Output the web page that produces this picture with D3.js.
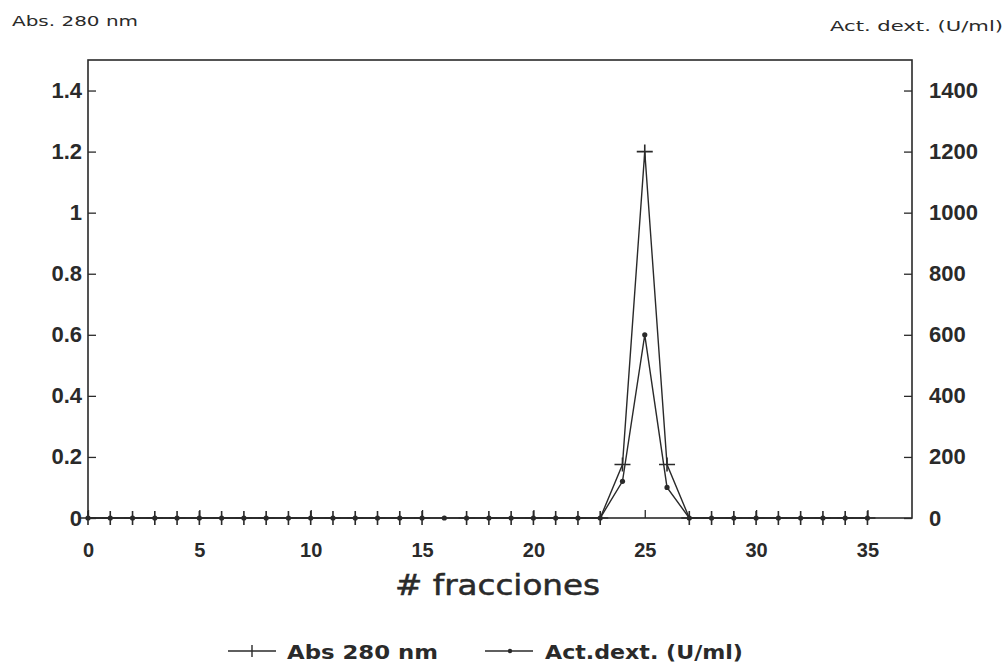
<!DOCTYPE html>
<html>
<head>
<meta charset="utf-8">
<script src="https://cdn.jsdelivr.net/npm/d3@7"></script>
<style>
  body { margin: 0; background: #fff; }
  svg { font-family: "DejaVu Sans", "Liberation Sans", Arial, sans-serif; }
</style>
</head>
<body>
<svg id="chart" width="1005" height="665"></svg>
<script>
// ----- data -----
const fractions = d3.range(0, 36);                       // 0..35
// absorbance at 280 nm; fraction 16 has no reading
const absValues = fractions.map(f =>
  f === 16 ? null : ({ 24: 0.175, 25: 1.2, 26: 0.175 }[f] ?? 0));
// dextranase activity (U/ml)
const actValues = fractions.map(f => ({ 24: 120, 25: 600, 26: 100 }[f] ?? 0));

const xTicks = [0, 5, 10, 15, 20, 25, 30, 35];
const leftTicks = [0, 0.2, 0.4, 0.6, 0.8, 1, 1.2, 1.4];
const rightTicks = [0, 200, 400, 600, 800, 1000, 1200, 1400];

// ----- layout -----
const plot = { left: 88, right: 912, top: 60, bottom: 518 };
const ink = '#2a2a2a';

const svg = d3.select('#chart');

const x = d3.scaleLinear().domain([0, 37]).range([plot.left, plot.right]);
const yL = d3.scaleLinear().domain([0, 1.5]).range([plot.bottom, plot.top]);
const yR = d3.scaleLinear().domain([0, 1500]).range([plot.bottom, plot.top]);

// frame
svg.append('rect')
  .attr('x', plot.left).attr('y', plot.top)
  .attr('width', plot.right - plot.left).attr('height', plot.bottom - plot.top)
  .attr('fill', 'none').attr('stroke', ink).attr('stroke-width', 1.6);

// axes, ticks pointing inward
function styleAxis(g, size) {
  g.select('.domain').remove();
  g.selectAll('.tick line').attr('stroke', ink).attr('stroke-width', 1.3);
  g.selectAll('.tick text')
    .attr('fill', ink).attr('font-weight', 'bold').attr('font-size', size);
}

svg.append('g')
  .attr('transform', `translate(${plot.left},0)`)
  .call(d3.axisRight(yL).tickValues(leftTicks).tickSize(8).tickFormat(d3.format('')))
  .call(styleAxis, 22)
  .call(g => g.selectAll('.tick text').attr('text-anchor', 'end').attr('x', -6));

svg.append('g')
  .attr('transform', `translate(${plot.right},0)`)
  .call(d3.axisLeft(yR).tickValues(rightTicks).tickSize(8).tickFormat(d3.format('d')))
  .call(styleAxis, 22)
  .call(g => g.selectAll('.tick text').attr('text-anchor', 'start').attr('x', 17));

svg.append('g')
  .attr('transform', `translate(0,${plot.bottom})`)
  .call(d3.axisTop(x).tickValues(xTicks).tickSize(8).tickFormat(d3.format('d')))
  .call(styleAxis, 20)
  .call(g => g.selectAll('.tick text').attr('y', 39).attr('dy', 0));

// ----- series -----
const absData = fractions.map((f, i) => ({ f, v: absValues[i] }));
const actData = fractions.map((f, i) => ({ f, v: actValues[i] }));

const lineStyle = sel => sel.attr('fill', 'none').attr('stroke', ink).attr('stroke-width', 1.4);

svg.append('path').datum(actData)
  .attr('d', d3.line().x(d => x(d.f)).y(d => yR(d.v)))
  .call(lineStyle);

svg.append('path').datum(absData)
  .attr('d', d3.line().defined(d => d.v !== null).x(d => x(d.f)).y(d => yL(d.v)))
  .call(lineStyle);

// dot markers for activity
svg.append('g').selectAll('circle')
  .data(actData).join('circle')
  .attr('cx', d => x(d.f)).attr('cy', d => yR(d.v))
  .attr('r', 2.6).attr('fill', ink);

// plus markers for absorbance
const plus = (w, h) => `M${-w},0H${w}M0,${-h}V${h}`;
svg.append('g').selectAll('path')
  .data(absData.filter(d => d.v !== null)).join('path')
  .attr('transform', d => `translate(${x(d.f)},${yL(d.v)})`)
  .attr('d', plus(8, 7))
  .attr('stroke', ink).attr('stroke-width', 1.6).attr('fill', 'none');

// ----- labels (glyphs stretched a little to match the wide typeface of the scan) -----
function label(xp, yp, size, width, txt, weight) {
  return svg.append('text').attr('x', xp).attr('y', yp)
    .attr('font-size', size).attr('font-weight', weight || 'normal').attr('fill', ink)
    .attr('textLength', width).attr('lengthAdjust', 'spacingAndGlyphs')
    .text(txt);
}

label(12, 26, 14, 126, 'Abs. 280 nm');
label(830, 31, 14, 173, 'Act. dext. (U/ml)');
label(395, 595, 28, 205, '# fracciones').attr('stroke', ink).attr('stroke-width', 0.5);

// legend
const legY = 651;
svg.append('line').attr('x1', 228).attr('x2', 276).attr('y1', legY).attr('y2', legY)
  .attr('stroke', ink).attr('stroke-width', 1.4);
svg.append('path').attr('transform', `translate(252,${legY})`).attr('d', plus(0, 6))
  .attr('stroke', ink).attr('stroke-width', 1.4);
label(287, legY + 8, 19, 151, 'Abs 280 nm', 'bold');

svg.append('line').attr('x1', 485).attr('x2', 533).attr('y1', legY).attr('y2', legY)
  .attr('stroke', ink).attr('stroke-width', 1.4);
svg.append('circle').attr('cx', 510).attr('cy', legY).attr('r', 2.2).attr('fill', ink);
label(545, legY + 8, 19, 198, 'Act.dext. (U/ml)', 'bold');
</script>
</body>
</html>
